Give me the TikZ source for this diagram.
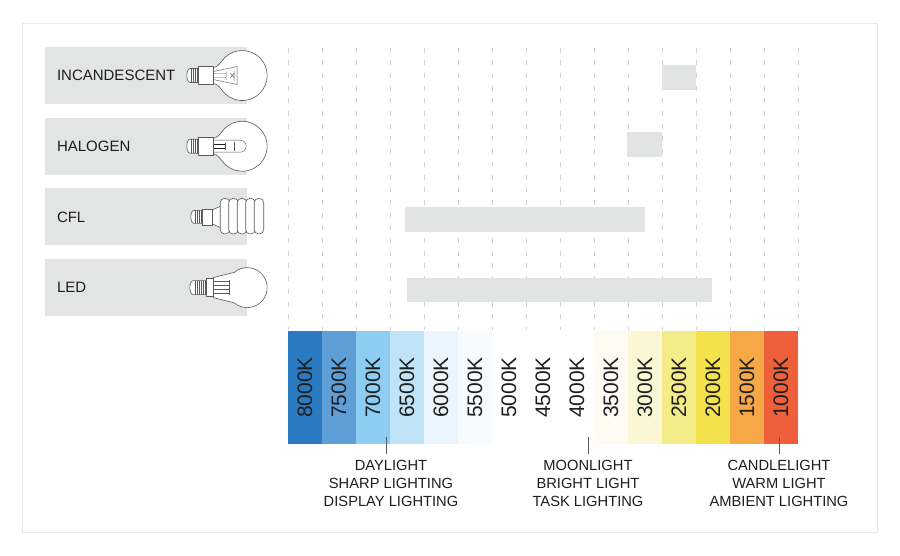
\documentclass[tikz,border=0pt]{standalone}
\usepackage{fontspec}
\setmainfont{Liberation Sans}

\definecolor{boxgray}{HTML}{E3E4E4}
\definecolor{bargray}{HTML}{E2E3E3}
\definecolor{gridgray}{HTML}{D2D2D2}
\definecolor{framegray}{HTML}{EAEAEA}
\definecolor{inkgray}{HTML}{5A5A5A}
\definecolor{textblack}{HTML}{1E1E1E}
\definecolor{k8000}{HTML}{2A7AC2}
\definecolor{k7500}{HTML}{5E9FD8}
\definecolor{k7000}{HTML}{8DCDF2}
\definecolor{k6500}{HTML}{C0E3F8}
\definecolor{k6000}{HTML}{EBF5FD}
\definecolor{k5500}{HTML}{F7FBFE}
\definecolor{k5000}{HTML}{FFFFFF}
\definecolor{k4500}{HTML}{FFFFFF}
\definecolor{k4000}{HTML}{FFFFFF}
\definecolor{k3500}{HTML}{FEFCF2}
\definecolor{k3000}{HTML}{FBF7D4}
\definecolor{k2500}{HTML}{F3EC88}
\definecolor{k2000}{HTML}{F4E24C}
\definecolor{k1500}{HTML}{F5A845}
\definecolor{k1000}{HTML}{ED603A}

\begin{document}
\begin{tikzpicture}[x=1pt, y=-1pt,
    typebox/.style={fill=boxgray, minimum width=202pt, minimum height=57pt, inner sep=0pt},
    typelabel/.style={anchor=west, inner sep=0pt, text=textblack, font=\fontsize{15}{18}\selectfont},
    rangebar/.style={fill=bargray},
    gridline/.style={draw=gridgray, line width=0.8pt, dash pattern=on 5pt off 7.7pt},
    kcell/.style={minimum width=34pt, minimum height=113pt, inner sep=0pt, outer sep=0pt},
    klabel/.style={rotate=90, inner sep=0pt, text=textblack, font=\fontsize{21}{21}\selectfont},
    usage/.style={anchor=north, align=center, inner sep=0pt, text=textblack, font=\fontsize{14.7}{17.8}\selectfont},
    tickline/.style={draw=inkgray, line width=0.8pt},
    bulb/.style={draw=inkgray, line width=0.6pt, fill=white, line join=round},
    thread/.style={draw=inkgray, line width=0.45pt},
    pin/.style={draw=textblack, line width=0.9pt}]

    \useasboundingbox (0,0) rectangle (900,555);
    \draw[framegray, line width=1pt] (22.5,23) rectangle (877,532);

    \node[typebox] (incbox) at (146,75.5) {};
    \node[typebox, below of=incbox, node distance=70.7pt] (halbox) {};
    \node[typebox, below of=halbox, node distance=70.7pt] (cflbox) {};
    \node[typebox, below of=cflbox, node distance=70.7pt] (ledbox) {};
    \node[typelabel] (inclabel) at ([xshift=12pt]incbox.west) {INCANDESCENT};
    \node[typelabel] (hallabel) at ([xshift=12pt]halbox.west) {HALOGEN};
    \node[typelabel] (cfllabel) at ([xshift=12pt]cflbox.west) {CFL};
    \node[typelabel] (ledlabel) at ([xshift=12pt]ledbox.west) {LED};

    \begin{scope}[shift={(incbox.east)}]
        \draw[bulb] (-34,-8) .. controls (-30,-8.5) and (-28,-11) .. (-25.5,-14.3)
            arc[start angle=-145, end angle=145, radius=25]
            .. controls (-28,11) and (-30,8.5) .. (-34,8) -- cycle;
        \draw[thread] (-34,-4) -- (-10,-9) -- (-10,9) -- (-34,4);
        \draw[thread] (-34,-2) -- (-21,-2) (-34,2) -- (-21,2) (-21,-4) -- (-21,4)
            (-17,-2.5) -- (-13,2.5) (-17,2.5) -- (-13,-2.5) (-13,-5) -- (-13,5);
        \draw[bulb] (-49,-9) rectangle (-34,9);
        \draw[bulb] (-49,-7) -- (-57,-7) .. controls (-61.5,-7) and (-61.5,7) .. (-57,7) -- (-49,7) -- cycle;
        \foreach \tx in {-56,-54,-52,-50} \draw[thread] (\tx,-7) -- (\tx,7);
    \end{scope}

    \begin{scope}[shift={(halbox.east)}]
        \draw[bulb] (-34,-8) .. controls (-30,-8.5) and (-28,-11) .. (-25.5,-14.3)
            arc[start angle=-145, end angle=145, radius=25]
            .. controls (-28,11) and (-30,8.5) .. (-34,8) -- cycle;
        \draw[thread] (-34,-6) -- (-7,-6) arc[start angle=-90, end angle=90, radius=6] -- (-34,6);
        \draw[thread] (-13,-4.5) -- (-13,4.5);
        \draw[pin] (-40,-2) -- (-22,-2) (-40,2.5) -- (-22,2.5);
        \draw[thread] (-22,-3.5) -- (-22,3.5);
        \draw[bulb] (-49,-9) rectangle (-34,9);
        \draw[bulb] (-49,-7) -- (-57,-7) .. controls (-61.5,-7) and (-61.5,7) .. (-57,7) -- (-49,7) -- cycle;
        \foreach \tx in {-56,-54,-52,-50} \draw[thread] (\tx,-7) -- (\tx,7);
    \end{scope}

    \begin{scope}[shift={(cflbox.east)}]
        \draw[bulb] (-35,-7) -- (-26,-11) -- (-26,11) -- (-35,7) -- cycle;
        \foreach \cx in {-27,-18.5,-10,-1.5,7}
            \draw[bulb, rounded corners=4.2pt] (\cx,-18.5) rectangle (\cx+9.5,17);
        \draw[bulb] (-45,-8) rectangle (-35,8);
        \draw[bulb] (-45,-6.5) -- (-53,-6.5) .. controls (-57.5,-6.5) and (-57.5,6.5) .. (-53,6.5) -- (-45,6.5) -- cycle;
        \foreach \tx in {-52,-50,-48,-46} \draw[thread] (\tx,-6.5) -- (\tx,6.5);
    \end{scope}

    \begin{scope}[shift={(ledbox.east)}]
        \draw[bulb] (-34,-10) -- (-13,-15.2)
            arc[start angle=-130.5, end angle=130.5, radius=20] -- (-34,10) -- cycle;
        \foreach \fy in {-6,-2,2,6} \draw[thread] (-34,\fy) -- (-18,\fy);
        \draw[thread] (-18,-7.5) -- (-18,7.5);
        \draw[bulb] (-41,-9) rectangle (-34,9);
        \draw[bulb] (-41,-7) -- (-54,-7) .. controls (-58.5,-7) and (-58.5,7) .. (-54,7) -- (-41,7) -- cycle;
        \foreach \tx in {-52,-50,-48,-46,-44,-42} \draw[thread] (\tx,-7) -- (\tx,7);
    \end{scope}

    \foreach \i in {0,...,15}
        \draw[gridline] (288+34*\i,47.5) -- (288+34*\i,330);

    \fill[rangebar] (662,65) rectangle (696,90);
    \fill[rangebar] (626.7,131.7) rectangle (662,156.7);
    \fill[rangebar] (405.3,206.7) rectangle (644.7,231.7);
    \fill[rangebar] (406.7,277.7) rectangle (712.3,302.3);

    \foreach \kval [count=\i from 0] in {8000,7500,7000,6500,6000,5500,5000,4500,4000,3500,3000,2500,2000,1500,1000} {
        \node[kcell, fill=k\kval] (k\kval) at (305+34*\i,387.5) {};
        \node[klabel] at (k\kval) {\kval K};
    }

    \coordinate (daytick) at (386,437);
    \coordinate (moontick) at (588,437);
    \coordinate (candletick) at (779,437);
    \node[usage] (daylight) at (391,460) {DAYLIGHT\\SHARP LIGHTING\\DISPLAY LIGHTING};
    \node[usage] (moonlight) at (588,460) {MOONLIGHT\\BRIGHT LIGHT\\TASK LIGHTING};
    \node[usage] (candlelight) at (779,460) {CANDLELIGHT\\WARM LIGHT\\AMBIENT LIGHTING};
    \draw[tickline, shorten >=6pt] (daytick) -- (daytick |- daylight.north);
    \draw[tickline, shorten >=6pt] (moontick) -- (moontick |- moonlight.north);
    \draw[tickline, shorten >=6pt] (candletick) -- (candletick |- candlelight.north);
\end{tikzpicture}
\end{document}
